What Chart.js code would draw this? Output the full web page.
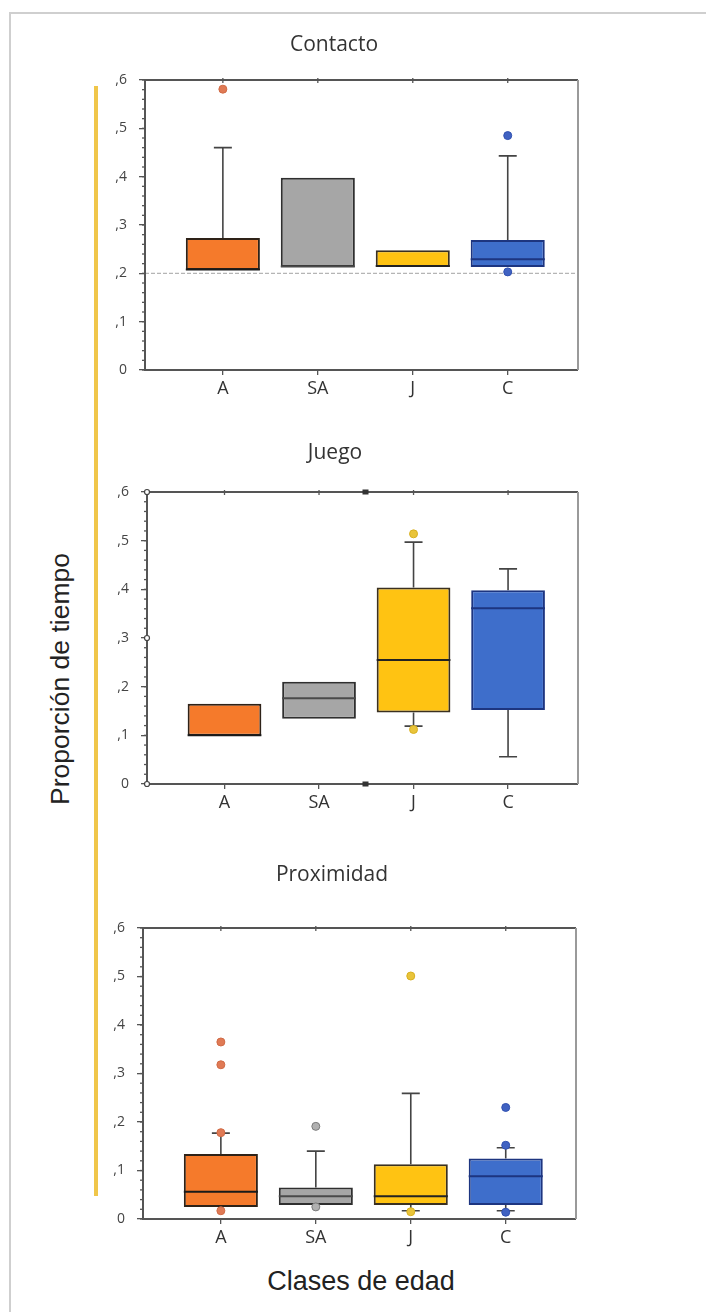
<!DOCTYPE html>
<html>
<head>
<meta charset="utf-8">
<script src="https://cdn.jsdelivr.net/npm/chart.js@4.4.0/dist/chart.umd.min.js"></script>
<style>
  body { margin: 0; background: #fff; width: 706px; height: 1312px; position: relative; overflow: hidden; }
  .frame { position: absolute; left: 9px; top: 12px; width: 720px; height: 1320px; border-left: 2px solid #cfcfcf; border-top: 2px solid #cfcfcf; }
  .yline { position: absolute; left: 94px; top: 86px; width: 4px; height: 1110px; background: #f0c64a; }
  .ytitle { position: absolute; left: 60px; top: 679px; transform: translate(-50%, -50%) rotate(-90deg);
            font: 26.5px "Liberation Sans", Arial, sans-serif; color: #222; white-space: nowrap; }
  .xtitle { position: absolute; left: 361px; top: 1281px; transform: translate(-50%, -50%);
            font: 27px "Liberation Sans", Arial, sans-serif; color: #222; white-space: nowrap; }
  canvas { position: absolute; }
</style>
</head>
<body>
<div class="frame"></div>
<div class="yline"></div>
<div class="ytitle">Proporción de tiempo</div>
<div class="xtitle">Clases de edad</div>
<canvas id="c1"></canvas>
<canvas id="c2"></canvas>
<canvas id="c3"></canvas>
<script>
// clases de edad
var categories = ['A', 'SA', 'J', 'C'];
var yTickLabels = ['0', ',1', ',2', ',3', ',4', ',5', ',6'];

// Contacto
var contactoQ1 = [0.207, 0.213, 0.213, 0.213];
var contactoQ3 = [0.273, 0.398, 0.248, 0.269];
var contactoMediana = [0.208, 0.214, 0.215, 0.229];
var contactoMin = [0.207, 0.213, 0.213, 0.213];
var contactoMax = [0.46, 0.398, 0.248, 0.443];
var contactoAtipicos = [[0.581], [], [], [0.485, 0.203]];

// Juego
var juegoQ1 = [0.099, 0.134, 0.147, 0.152];
var juegoQ3 = [0.165, 0.21, 0.404, 0.398];
var juegoMediana = [0.1, 0.176, 0.255, 0.361];
var juegoMin = [0.099, 0.134, 0.119, 0.056];
var juegoMax = [0.165, 0.21, 0.497, 0.442];
var juegoAtipicos = [[], [], [0.514, 0.112], []];

// Proximidad
var proxQ1 = [0.025, 0.029, 0.029, 0.029];
var proxQ3 = [0.134, 0.065, 0.113, 0.125];
var proxMediana = [0.056, 0.047, 0.047, 0.088];
var proxMin = [0.025, 0.029, 0.017, 0.017];
var proxMax = [0.177, 0.140, 0.259, 0.147];
var proxAtipicos = [[0.365, 0.318, 0.178, 0.017], [0.191, 0.025], [0.501, 0.015], [0.230, 0.152, 0.014]];

var colores = ['#f57a2b', '#a6a6a6', '#ffc312', '#3e6ecb'];
var bordes = ['#2e2218', '#2f2f2f', '#3a3020', '#1d3580'];
var colorMediana = ['#1a1a1a', '#4a4a4a', '#222222', '#1d3580'];
var colorAtipico = ['#e07a55', '#b0b0b0', '#e9c43a', '#4062c2'];
var bordeAtipico = ['#d06a45', '#7a7a7a', '#d8b020', '#3050b0'];

var paneles = [
    { id: 'c1', titulo: 'Contacto', L: 145, R: 578, T: 80, B: 370, tituloY: 45,
      q1: contactoQ1, q3: contactoQ3, med: contactoMediana, lo: contactoMin, hi: contactoMax, out: contactoAtipicos, ref: 0.2 },
    { id: 'c2', titulo: 'Juego', L: 147, R: 578, T: 492, B: 784, tituloY: 453,
      q1: juegoQ1, q3: juegoQ3, med: juegoMediana, lo: juegoMin, hi: juegoMax, out: juegoAtipicos, handles: true },
    { id: 'c3', titulo: 'Proximidad', L: 143, R: 576, T: 928, B: 1219, tituloY: 875,
      q1: proxQ1, q3: proxQ3, med: proxMediana, lo: proxMin, hi: proxMax, out: proxAtipicos }
];

function cajas(p) {
    return {
        id: 'cajas',
        beforeDatasetsDraw: function(chart) {
            var ctx = chart.ctx, xs = chart.scales.x, ys = chart.scales.y, a = chart.chartArea;
            ctx.save();
            if (p.ref !== undefined) {
                ctx.strokeStyle = '#b5b5b5';
                ctx.lineWidth = 1.2;
                ctx.setLineDash([4, 2]);
                var yr = ys.getPixelForValue(p.ref);
                ctx.beginPath(); ctx.moveTo(a.left, yr); ctx.lineTo(a.right, yr); ctx.stroke();
                ctx.setLineDash([]);
            }
            ctx.strokeStyle = '#444';
            ctx.lineWidth = 1.6;
            categories.forEach(function(c, i) {
                var x = xs.getPixelForValue(i);
                [[p.q3[i], p.hi[i]], [p.q1[i], p.lo[i]]].forEach(function(w) {
                    if (Math.abs(w[1] - w[0]) < 0.001) return;
                    var y0 = ys.getPixelForValue(w[0]), y1 = ys.getPixelForValue(w[1]);
                    ctx.beginPath();
                    ctx.moveTo(x, y0); ctx.lineTo(x, y1);
                    ctx.moveTo(x - 9, y1); ctx.lineTo(x + 9, y1);
                    ctx.stroke();
                });
            });
            ctx.restore();
        },
        afterDatasetDraw: function(chart, args) {
            if (args.index !== 0) return;
            var ctx = chart.ctx, ys = chart.scales.y;
            var meta = chart.getDatasetMeta(0);
            ctx.save();
            ctx.lineWidth = 2;
            meta.data.forEach(function(bar, i) {
                var y = ys.getPixelForValue(p.med[i]);
                ctx.strokeStyle = colorMediana[i];
                ctx.beginPath();
                ctx.moveTo(bar.x - bar.width / 2, y);
                ctx.lineTo(bar.x + bar.width / 2, y);
                ctx.stroke();
            });
            ctx.restore();
        },
        afterDraw: function(chart) {
            var ctx = chart.ctx, xs = chart.scales.x, ys = chart.scales.y, a = chart.chartArea;
            ctx.save();
            // marco
            ctx.lineWidth = 2;
            ctx.strokeStyle = '#555';
            ctx.beginPath();
            ctx.moveTo(a.right, a.top); ctx.lineTo(a.left, a.top); ctx.lineTo(a.left, a.bottom); ctx.lineTo(a.right, a.bottom);
            ctx.stroke();
            ctx.strokeStyle = '#9a9a9a';
            ctx.beginPath(); ctx.moveTo(a.right, a.top); ctx.lineTo(a.right, a.bottom); ctx.stroke();
            // marcas menores
            ctx.strokeStyle = '#555';
            ctx.lineWidth = 1.3;
            for (var v = 0; v <= 0.6001; v += 0.02) {
                var y = ys.getPixelForValue(v);
                ctx.beginPath(); ctx.moveTo(a.left - 3, y); ctx.lineTo(a.left + 1, y); ctx.stroke();
            }
            categories.forEach(function(c, i) {
                var x = xs.getPixelForValue(i);
                ctx.beginPath(); ctx.moveTo(x, a.top - 2); ctx.lineTo(x, a.top + 3); ctx.stroke();
            });
            if (p.handles) {
                var mx = (a.left + a.right) / 2 + 3;
                ctx.fillStyle = '#fff';
                ctx.strokeStyle = '#444';
                ctx.lineWidth = 1.2;
                [[a.left, a.top], [a.left, ys.getPixelForValue(0.3)], [a.left, a.bottom]].forEach(function(h) {
                    ctx.beginPath(); ctx.arc(h[0], h[1], 2.5, 0, Math.PI * 2); ctx.fill(); ctx.stroke();
                });
                ctx.fillStyle = '#333';
                [[mx, a.top], [mx, a.bottom]].forEach(function(h) {
                    ctx.fillRect(h[0] - 3, h[1] - 2.5, 6, 5);
                });
            }
            ctx.restore();
        }
    };
}

paneles.forEach(function(p) {
    var canvas = document.getElementById(p.id);
    var top = p.tituloY - 25;
    var w = p.R - p.L + 110;
    var h = p.B - top + 32;
    canvas.width = w; canvas.height = h;
    canvas.style.left = (p.L - 55) + 'px';
    canvas.style.top = top + 'px';
    canvas.style.width = w + 'px';
    canvas.style.height = h + 'px';

    var puntos = [];
    p.out.forEach(function(arr, i) {
        arr.forEach(function(v) { puntos.push({ x: i, y: v }); });
    });

    new Chart(canvas.getContext('2d'), {
        type: 'bar',
        data: {
            datasets: [{
                type: 'bar',
                order: 1,
                data: categories.map(function(c, i) { return { x: i, y: [p.q1[i], p.q3[i]] }; }),
                backgroundColor: colores,
                borderColor: bordes,
                borderWidth: 2,
                borderSkipped: false,
                categoryPercentage: 1,
                barPercentage: 0.78
            }, {
                type: 'scatter',
                order: 0,
                data: puntos,
                pointRadius: 4,
                pointBorderWidth: 1,
                pointBackgroundColor: function(ctx) { return ctx.raw ? colorAtipico[ctx.raw.x] : '#999'; },
                pointBorderColor: function(ctx) { return ctx.raw ? bordeAtipico[ctx.raw.x] : '#999'; }
            }]
        },
        options: {
            responsive: false,
            animation: false,
            layout: { padding: { left: 0, right: 55, top: 0, bottom: 0 } },
            plugins: {
                legend: { display: false },
                tooltip: { enabled: false },
                title: {
                    display: true,
                    text: p.titulo,
                    color: '#333',
                    font: { family: 'Open Sans', size: 21, weight: 'normal' },
                    padding: { top: 12.4, bottom: (p.T - top) - 12.4 - 21 * 1.2 }
                }
            },
            scales: {
                x: {
                    type: 'linear',
                    offset: false,
                    min: -0.82,
                    max: 3.74,
                    afterBuildTicks: function(s) { s.ticks = categories.map(function(c, i) { return { value: i }; }); },
                    afterFit: function(s) { s.height = 32; },
                    border: { display: false },
                    grid: { offset: false, drawOnChartArea: false, tickLength: 5, color: '#555', lineWidth: 1.3 },
                    ticks: {
                        padding: 3,
                        color: '#333',
                        font: { family: 'Open Sans', size: 18 },
                        callback: function(v) { return categories[Math.round(v)]; }
                    }
                },
                y: {
                    min: 0,
                    max: 0.6,
                    afterFit: function(s) { s.width = 55; },
                    border: { display: false },
                    grid: { drawOnChartArea: false, tickLength: 6, color: '#555', lineWidth: 1.3 },
                    ticks: {
                        stepSize: 0.1,
                        padding: 12,
                        color: '#444',
                        font: { family: 'Open Sans', size: 14 },
                        callback: function(v) { return yTickLabels[Math.round(v * 10)]; }
                    }
                }
            }
        },
        plugins: [cajas(p)]
    });
});
</script>
</body>
</html>
